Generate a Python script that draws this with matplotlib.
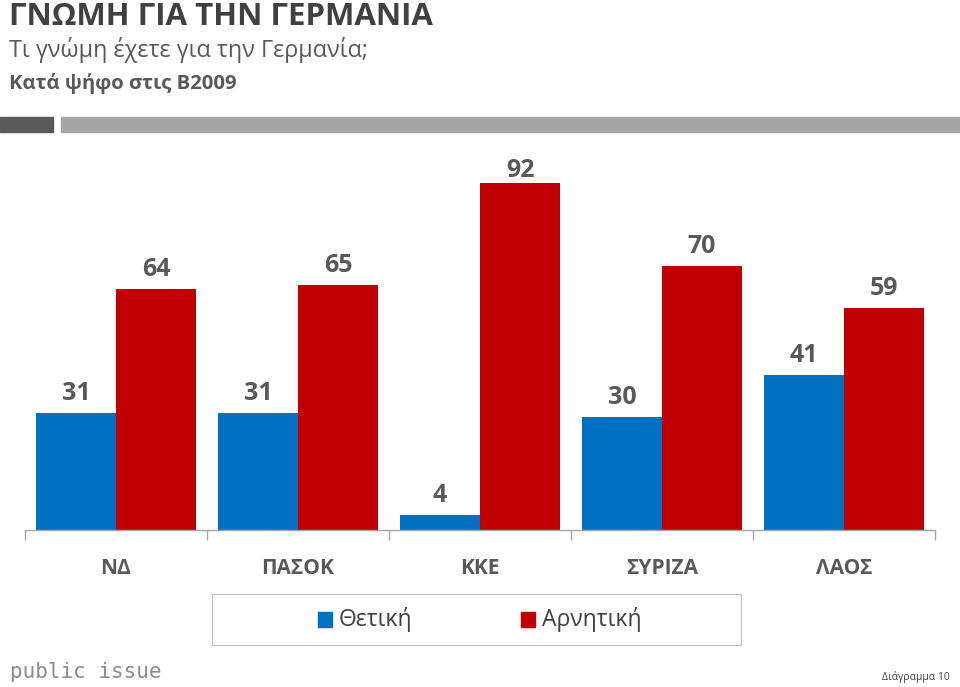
import matplotlib
matplotlib.use("Agg")
import matplotlib.pyplot as plt
from matplotlib.patches import Rectangle
import numpy as np

plt.rcParams['font.family'] = ['Open Sans', 'DejaVu Sans']

categories = ["ΝΔ", "ΠΑΣΟΚ", "ΚΚΕ", "ΣΥΡΙΖΑ", "ΛΑΟΣ"]
positive = [31, 31, 4, 30, 41]
negative = [64, 65, 92, 70, 59]
series_names = ["Θετική", "Αρνητική"]

BLUE = "#0070C0"
RED = "#C00000"
LABEL = "#595959"

fig = plt.figure(figsize=(9.6, 6.87), dpi=100)
W, H = 960, 687

def fx(px):
    return px / W

def fy(py):
    return 1 - py / H

# axes: x 25..935, bottom y=530, top y=153 (ylim 0..100)
ax = fig.add_axes([fx(25), fy(530), fx(935 - 25), fy(153) - fy(530)])
x = np.arange(len(categories))
bw = 0.44
b1 = ax.bar(x - bw / 2, positive, bw, color=BLUE, label=series_names[0])
b2 = ax.bar(x + bw / 2, negative, bw, color=RED, label=series_names[1])
ax.set_xlim(-0.5, len(categories) - 0.5)
ax.set_ylim(0, 100)

px_per_unit = 377 / 100.0
lab_off = 13 / px_per_unit
lab_max = (530 - 177) / px_per_unit
for bars, vals in ((b1, positive), (b2, negative)):
    for r, v in zip(bars, vals):
        ax.text(r.get_x() + r.get_width() / 2, min(v + lab_off, lab_max),
                f"{v}", ha="center", va="baseline", fontsize=18,
                fontweight="bold", color=LABEL)

for s in ["top", "right", "left"]:
    ax.spines[s].set_visible(False)
ax.spines["bottom"].set_color("#a6a6a6")
ax.spines["bottom"].set_linewidth(1.0)
ax.set_yticks([])
ax.set_xticks(x)
ax.set_xticklabels(categories, fontsize=15, fontweight="bold", color=LABEL)
ax.tick_params(axis="x", which="major", length=0, pad=20)
ax.set_xticks(np.arange(-0.5, len(categories), 1.0), minor=True)
ax.tick_params(axis="x", which="minor", length=7, color="#a6a6a6", width=1)

# Legend box
leg_ax = fig.add_axes([fx(212), fy(645), fx(741 - 212), fy(594) - fy(645)])
leg_ax.set_xlim(0, 1); leg_ax.set_ylim(0, 1)
leg_ax.set_xticks([]); leg_ax.set_yticks([])
for s in leg_ax.spines.values():
    s.set_color("#bfbfbf")
items = [(BLUE, series_names[0], 318), (RED, series_names[1], 521)]
for col, name, px in items:
    leg_ax.add_patch(Rectangle(((px - 212) / 529, 0.36), 14 / 529, 15 / 51,
                               color=col, transform=leg_ax.transAxes))
    leg_ax.text((px - 212 + 21) / 529, 0.5, name, fontsize=16.5,
                color="#404040", va="center", ha="left",
                transform=leg_ax.transAxes)

# Titles
fig.text(fx(9), fy(25), "ΓΝΩΜΗ ΓΙΑ ΤΗΝ ΓΕΡΜΑΝΙΑ", fontsize=22.5,
         fontweight="bold", color="#404040", va="baseline", ha="left")
fig.text(fx(9), fy(57), "Τι γνώμη έχετε για την Γερμανία;", fontsize=16.8,
         color="#595959", va="baseline", ha="left")
fig.text(fx(9), fy(89), "Κατά ψήφο στις Β2009", fontsize=14.6,
         fontweight="bold", color="#595959", va="baseline", ha="left")

# header bars
fig.patches.append(Rectangle((fx(0), fy(132)), fx(53), fy(117) - fy(132),
                             color="#595959", transform=fig.transFigure))
fig.patches.append(Rectangle((fx(61), fy(132)), fx(960 - 61), fy(117) - fy(132),
                             color="#a6a6a6", transform=fig.transFigure))

# footer
fig.text(fx(10), fy(672), "public issue", fontsize=15, color="#8c8c8c",
         va="center", ha="left", family=["DejaVu Sans Mono", "DejaVu Sans"])
fig.text(fx(950), fy(677), "Διάγραμμα 10", fontsize=7.5, color="#404040",
         va="center", ha="right")

fig.savefig("out.png", dpi=100)
